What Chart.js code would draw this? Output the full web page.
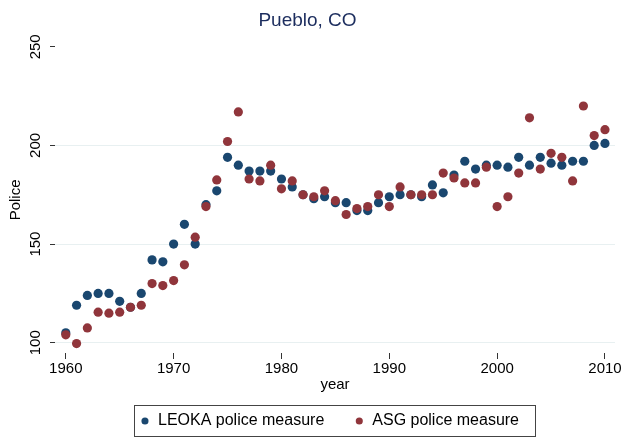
<!DOCTYPE html>
<html>
<head>
<meta charset="utf-8">
<script src="https://cdn.jsdelivr.net/npm/chart.js@4/dist/chart.umd.min.js"></script>
<style>
  html, body { margin: 0; padding: 0; background: #ffffff; }
  #wrap { position: relative; width: 626px; height: 437px; }
</style>
</head>
<body>
<div id="wrap"><canvas id="c" width="626" height="437"></canvas></div>
<script>
// ---- data ----
const years = [1960,1961,1962,1963,1964,1965,1966,1967,1968,1969,
               1970,1971,1972,1973,1974,1975,1976,1977,1978,1979,
               1980,1981,1982,1983,1984,1985,1986,1987,1988,1989,
               1990,1991,1992,1993,1994,1995,1996,1997,1998,1999,
               2000,2001,2002,2003,2004,2005,2006,2007,2008,2009,2010];
const leoka = [105,119,124,125,125,121,118,125,142,141,
               150,160,150,170,177,194,190,187,187,187,
               183,179,175,173,174,171,171,167,167,171,
               174,175,175,174,180,176,185,192,188,190,
               190,189,194,190,194,191,190,192,192,200,201];
const asg   = [104,99.6,107.5,115.5,115,115.5,118,119,130,129,
               131.5,139.5,153.5,169,182.5,202,217,183,182,190,
               178,182,175,174,177,172,165,168,169,175,
               169,179,175,175,175,186,183.5,181,181,189,
               169,174,186,214,188,196,194,182,220,205,208];
const xTicks = [1960,1970,1980,1990,2000,2010];
const yTicks = [100,150,200,250];
const seriesNames = ['LEOKA police measure','ASG police measure'];
const chartTitle = 'Pueblo, CO';
const xTitle = 'year';
const yTitle = 'Police';

const FONT = '"Liberation Sans", Arial, Helvetica, sans-serif';
const BLUE = '#1a476f';
const RED = '#90353b';

const toPts = (vals) => years.map((y, i) => ({x: y, y: vals[i]}));

const legendFrame = {
  id: 'legendFrame',
  afterLayout(chart) {
    const lg = chart.legend;
    if (lg) { lg.left += 22; lg.right += 22; }
  },
  afterDraw(chart) {
    const lg = chart.legend;
    if (!lg || !lg.legendHitBoxes || !lg.legendHitBoxes.length) return;
    const hb = lg.legendHitBoxes;
    const first = hb[0], last = hb[hb.length - 1];
    const l = Math.round(first.left - 6) + 0.5;
    const r = Math.round(last.left + last.width + 16) + 0.5;
    const t = Math.round(first.top - 8) + 0.5;
    const b = Math.round(first.top + 23) + 0.5;
    const ctx = chart.ctx;
    ctx.save();
    ctx.strokeStyle = '#444444';
    ctx.lineWidth = 1;
    ctx.strokeRect(l, t, r - l, b - t);
    ctx.restore();
  }
};

new Chart(document.getElementById('c'), {
  type: 'scatter',
  data: {
    datasets: [
      { label: seriesNames[0], data: toPts(leoka), backgroundColor: BLUE, borderColor: BLUE,
        borderWidth: 0, pointRadius: 4.6, pointHoverRadius: 4.6, order: 2 },
      { label: seriesNames[1], data: toPts(asg), backgroundColor: RED, borderColor: RED,
        borderWidth: 0, pointRadius: 4.6, pointHoverRadius: 4.6, order: 1 }
    ]
  },
  options: {
    responsive: false,
    animation: false,
    events: [],
    layout: { padding: { top: 0, left: 0, right: 11, bottom: -2 } },
    plugins: {
      title: {
        display: true, text: chartTitle, color: '#1c2d5e',
        font: { family: FONT, size: 19, weight: 'normal' },
        padding: { top: 9, bottom: 15 }
      },
      legend: {
        display: true, position: 'bottom',
        labels: {
          usePointStyle: true, pointStyle: 'circle', boxWidth: 10, boxHeight: 5,
          padding: 30, color: '#000000',
          font: { family: FONT, size: 16 },
          sort: (a, b) => a.datasetIndex - b.datasetIndex
        }
      },
      tooltip: { enabled: false }
    },
    scales: {
      x: {
        type: 'linear', min: 1959.0, max: 2010.93,
        afterBuildTicks: (s) => { s.ticks = xTicks.map(v => ({ value: v })); },
        afterFit: (s) => { s.height = 30; },
        border: { display: false },
        grid: { drawOnChartArea: false, drawTicks: true, tickLength: 6, tickColor: '#333333' },
        ticks: { color: '#000000', font: { family: FONT, size: 15 }, padding: 1,
                 maxRotation: 0, minRotation: 0, autoSkip: false,
                 callback: (v) => String(v) },
        title: { display: true, text: xTitle, color: '#000000',
                 font: { family: FONT, size: 15 }, padding: { top: 0, bottom: -11 } }
      },
      y: {
        type: 'linear', min: 94.8, max: 250,
        afterBuildTicks: (s) => { s.ticks = yTicks.map(v => ({ value: v })); },
        afterFit: (s) => { s.width = 55; },
        border: { display: false },
        grid: {
          drawTicks: true, tickLength: 5, tickColor: '#333333', lineWidth: 1,
          color: (c) => (c.tick && c.tick.value === 250) ? 'rgba(0,0,0,0)' : '#e8f0f1'
        },
        ticks: { color: '#000000', font: { family: FONT, size: 15 }, padding: 2,
                 minRotation: 90, maxRotation: 90, crossAlign: 'center', autoSkip: false,
                 callback: (v) => String(v) },
        title: { display: true, text: yTitle, color: '#000000',
                 font: { family: FONT, size: 15 }, padding: { top: 7, bottom: 0 } }
      }
    }
  },
  plugins: [legendFrame]
});
</script>
</body>
</html>
